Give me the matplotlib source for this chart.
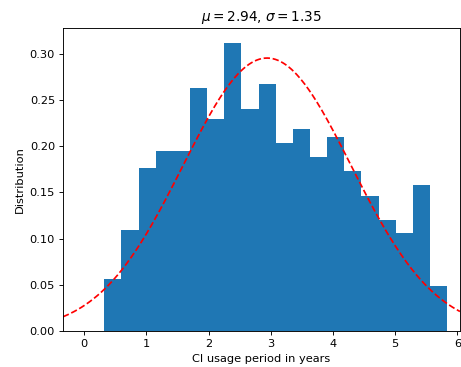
import numpy as np
import matplotlib.pyplot as plt

# histogram (density)
bin_start = 0.322
bin_width = 0.2757
heights = [0.056, 0.109, 0.1765, 0.195, 0.195, 0.2636, 0.229, 0.3123, 0.2404, 0.267,
           0.2033, 0.2184, 0.1884, 0.2105, 0.173, 0.1466, 0.1206, 0.1058, 0.158, 0.0487]
mu = 2.94
sigma = 1.35

edges = bin_start + bin_width * np.arange(len(heights) + 1)

dpi = 82
fig = plt.figure(figsize=(461 / dpi, 367 / dpi), dpi=dpi)
ax = fig.add_axes([0.1367, 0.098, 0.861, 0.8256])

ax.hist(edges[:-1], bins=edges, weights=heights, color='#1f77b4')

x = np.linspace(-0.34, 6.04, 300)
pdf = 1 / (sigma * np.sqrt(2 * np.pi)) * np.exp(-(x - mu) ** 2 / (2 * sigma ** 2))
ax.plot(x, pdf, 'r--')

ax.set_xlim(-0.34, 6.04)
ax.set_ylim(0, 0.328)
ax.set_xlabel('CI usage period in years')
ax.set_ylabel('Distribution')
ax.set_title(r'$\mu=%.2f$, $\sigma=%.2f$' % (mu, sigma))

plt.savefig('out.png', dpi=dpi)
